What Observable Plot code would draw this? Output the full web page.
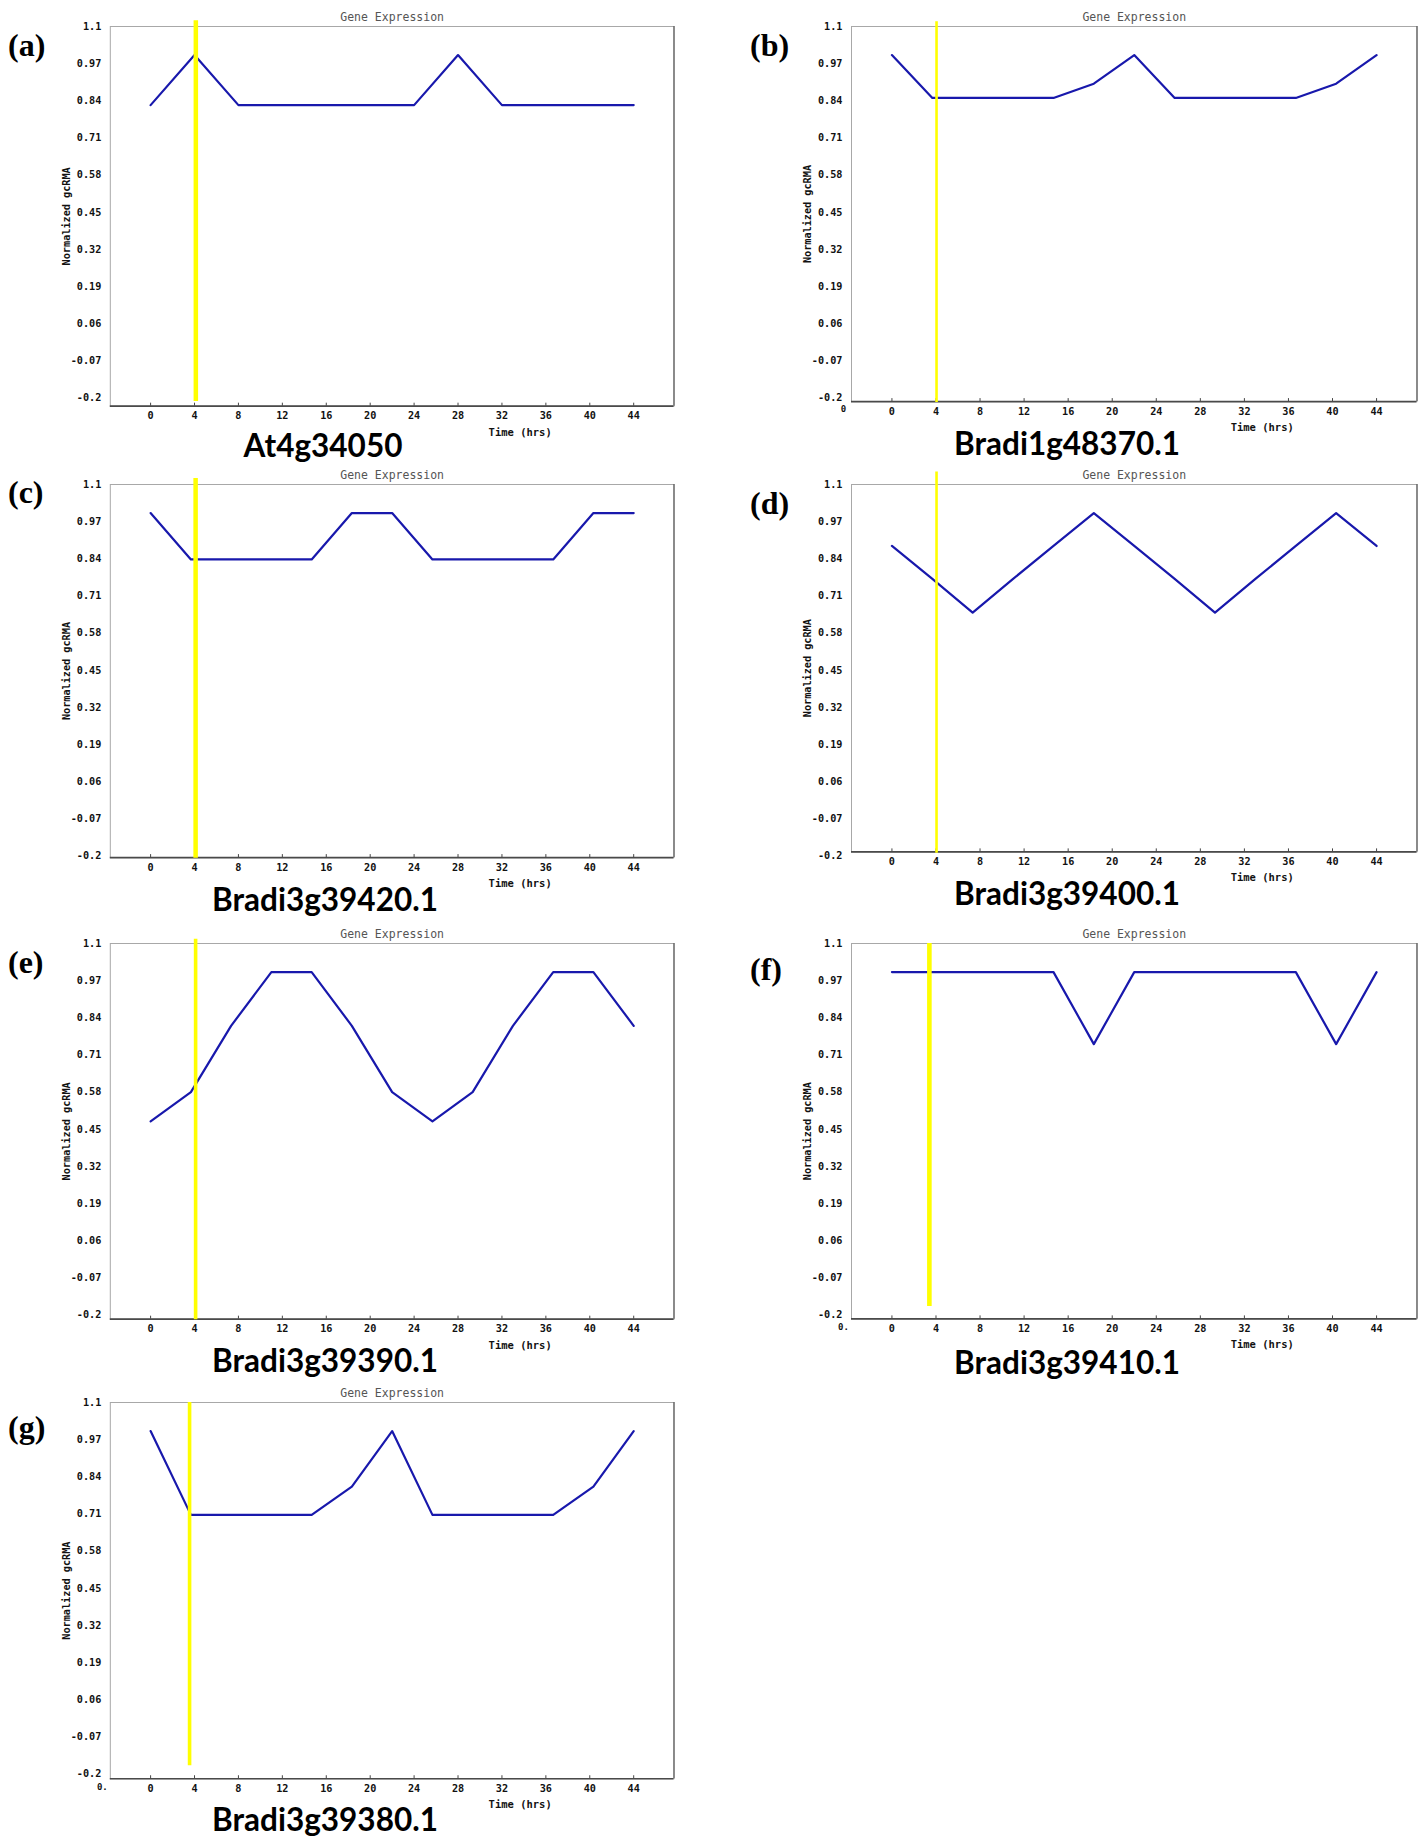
<!DOCTYPE html>
<html><head><meta charset="utf-8">
<script src="https://cdn.jsdelivr.net/npm/d3@7"></script>
<script src="https://cdn.jsdelivr.net/npm/@observablehq/plot@0.6"></script>
<style>
body{margin:0;background:#fff;}
#root{position:relative;width:1426px;height:1839px;background:#fff;overflow:hidden;}
.panel{position:absolute;}
.letter{position:absolute;font-family:"Liberation Serif","Times New Roman",serif;font-weight:bold;font-size:32px;line-height:1;transform:translateY(-50%);color:#000;}
.gene{position:absolute;font-family:Lato,"Open Sans",sans-serif;font-weight:bold;font-size:31.5px;line-height:1;transform:translate(-50%,-50%);white-space:nowrap;color:#000;}
</style></head><body><div id="root"></div>
<script>
// ---- data ----
const panelLetters = ["(a)", "(b)", "(c)", "(d)", "(e)", "(f)", "(g)"];
const geneNames = ["At4g34050", "Bradi1g48370.1", "Bradi3g39420.1", "Bradi3g39400.1", "Bradi3g39390.1", "Bradi3g39410.1", "Bradi3g39380.1"];
const timesEvery4h = [0, 4, 8, 12, 16, 20, 24, 28, 32, 36, 40, 44];
const timesEvery12th = [0, 3.67, 7.33, 11, 14.67, 18.33, 22, 25.67, 29.33, 33, 36.67, 40.33, 44];
const exprAt4g34050 = [0.825, 1.0, 0.825, 0.825, 0.825, 0.825, 0.825, 1.0, 0.825, 0.825, 0.825, 0.825];
const exprBradi1g48370 = [1.0, 0.85, 0.85, 0.85, 0.85, 0.9, 1.0, 0.85, 0.85, 0.85, 0.85, 0.9, 1.0];
const exprBradi3g39420 = [1.0, 0.838, 0.838, 0.838, 0.838, 1.0, 1.0, 0.838, 0.838, 0.838, 0.838, 1.0, 1.0];
const exprBradi3g39400 = [0.885, 0.77, 0.652, 0.77, 0.885, 1.0, 0.885, 0.77, 0.652, 0.77, 0.885, 1.0, 0.885];
const exprBradi3g39390 = [0.478, 0.58, 0.812, 1.0, 1.0, 0.812, 0.58, 0.478, 0.58, 0.812, 1.0, 1.0, 0.812];
const exprBradi3g39410 = [1.0, 1.0, 1.0, 1.0, 1.0, 0.748, 1.0, 1.0, 1.0, 1.0, 1.0, 0.748, 1.0];
const exprBradi3g39380 = [1.0, 0.707, 0.707, 0.707, 0.707, 0.806, 1.0, 0.707, 0.707, 0.707, 0.707, 0.806, 1.0];
const seriesTimes = [timesEvery4h, timesEvery12th, timesEvery12th, timesEvery12th, timesEvery12th, timesEvery12th, timesEvery12th];
const seriesValues = [exprAt4g34050, exprBradi1g48370, exprBradi3g39420, exprBradi3g39400, exprBradi3g39390, exprBradi3g39410, exprBradi3g39380];
const xTicks = [0, 4, 8, 12, 16, 20, 24, 28, 32, 36, 40, 44];
const yTicks = [1.1, 0.97, 0.84, 0.71, 0.58, 0.45, 0.32, 0.19, 0.06, -0.07, -0.2];
const xDomain = [-3.67, 47.67];
const yMax = 1.1;
const yMins = [-0.228, -0.212, -0.205, -0.185, -0.214, -0.213, -0.216];
// yellow marker line (time, top value, bottom value)
const markerTimes = [4.12, 4.05, 4.1, 4.05, 4.1, 3.4, 3.55];
const markerTops = [1.12, 1.117, 1.121, 1.144, 1.115, 1.1, 1.1];
const markerBottoms = [-0.212, -0.215, -0.207, -0.19, -0.216, -0.17, -0.171];
const strayLabels = [null, "0", null, null, null, "0.", "0."];

// ---- layout ----
const root = document.getElementById("root");
const rowTops = [25.8, 484.3, 942.7, 1402];
const pxPerUnit = 285.9;
const cols = [
  {left: 0, width: 700, marginLeft: 109.8, marginRight: 26.5},
  {left: 713, width: 713, marginLeft: 138, marginRight: 9.5}
];
const letterPos = [[8, 44.6], [750, 44.6], [8, 492], [750, 503], [8, 962], [750, 969], [8, 1427]];
const genePos = [[323, 446], [1067, 444], [325, 900], [1067, 894], [325, 1361], [1067, 1363], [325, 1820]];
const markerWidths = [4.5, 2.6, 4.5, 2.6, 3.6, 4.6, 3.6];
const mono = "'DejaVu Sans Mono', 'Liberation Mono', monospace";

for (let i = 0; i < 7; i++) {
  const col = cols[i % 2];
  const row = Math.floor(i / 2);
  const yMin = yMins[i];
  const frameH = (yMax - yMin) * pxPerUnit;
  const mTop = 40, mBottom = 46;
  const data = seriesTimes[i].map((t, k) => ({t, v: seriesValues[i][k]}));
  const marks = [
    Plot.frame({stroke: "#a8a8a8"}),
    Plot.ruleY([yMin], {stroke: "#4a4a4a", strokeWidth: 1.6}),
    Plot.ruleX([xDomain[1]], {stroke: "#5a5a5a", strokeWidth: 1.2}),
    Plot.tickX(xTicks, {x: d => d, stroke: "#444", insetTop: frameH - 3}),
    Plot.line(data, {x: "t", y: "v", stroke: "#1818ac", strokeWidth: 2.2}),
    Plot.ruleX([markerTimes[i]], {x: d => d, y1: markerTops[i], y2: markerBottoms[i], stroke: "#ffff00", strokeWidth: markerWidths[i]}),
    Plot.axisX(xTicks, {tickSize: 0, tickPadding: 6, tickFormat: d => String(d), label: null, fontWeight: "bold", fill: "#111"}),
    Plot.axisY(yTicks, {tickSize: 0, tickPadding: 9, tickFormat: d => String(d), label: null, fontWeight: "bold", fill: "#111"}),
    Plot.text(["Gene Expression"], {frameAnchor: "top", textAnchor: "middle", lineAnchor: "middle", dy: -9.5, fontFamily: mono, fontSize: 11.5, fill: "#555"}),
    Plot.text(["Time (hrs)"], {frameAnchor: "bottom", textAnchor: "middle", lineAnchor: "middle", dx: 128, dy: 26, fontFamily: mono, fontSize: 10.5, fontWeight: "bold", fill: "#111"}),
    Plot.text(["Normalized gcRMA"], {frameAnchor: "left", textAnchor: "middle", lineAnchor: "middle", rotate: -90, dx: -44, fontFamily: mono, fontSize: 10.2, fontWeight: "bold", fill: "#111"})
  ];
  if (strayLabels[i]) {
    marks.push(Plot.text([strayLabels[i]], {frameAnchor: "bottom-left", textAnchor: "middle", lineAnchor: "middle", dx: -8, dy: 8, fontFamily: mono, fontSize: 9, fontWeight: "bold", fill: "#111"}));
  }
  const svg = Plot.plot({
    width: col.width,
    height: mTop + frameH + mBottom,
    marginLeft: col.marginLeft,
    marginRight: col.marginRight,
    marginTop: mTop,
    marginBottom: mBottom,
    style: {background: "transparent", fontFamily: mono, fontSize: "10.2px", overflow: "visible"},
    x: {domain: xDomain},
    y: {domain: [yMin, yMax]},
    marks
  });
  svg.classList.add("panel");
  svg.style.left = col.left + "px";
  svg.style.top = (rowTops[row] - mTop) + "px";
  root.appendChild(svg);

  const letter = document.createElement("div");
  letter.className = "letter";
  letter.textContent = panelLetters[i];
  letter.style.left = letterPos[i][0] + "px";
  letter.style.top = letterPos[i][1] + "px";
  root.appendChild(letter);

  const gene = document.createElement("div");
  gene.className = "gene";
  gene.textContent = geneNames[i];
  gene.style.left = genePos[i][0] + "px";
  gene.style.top = genePos[i][1] + "px";
  root.appendChild(gene);
}
</script>
</body></html>
